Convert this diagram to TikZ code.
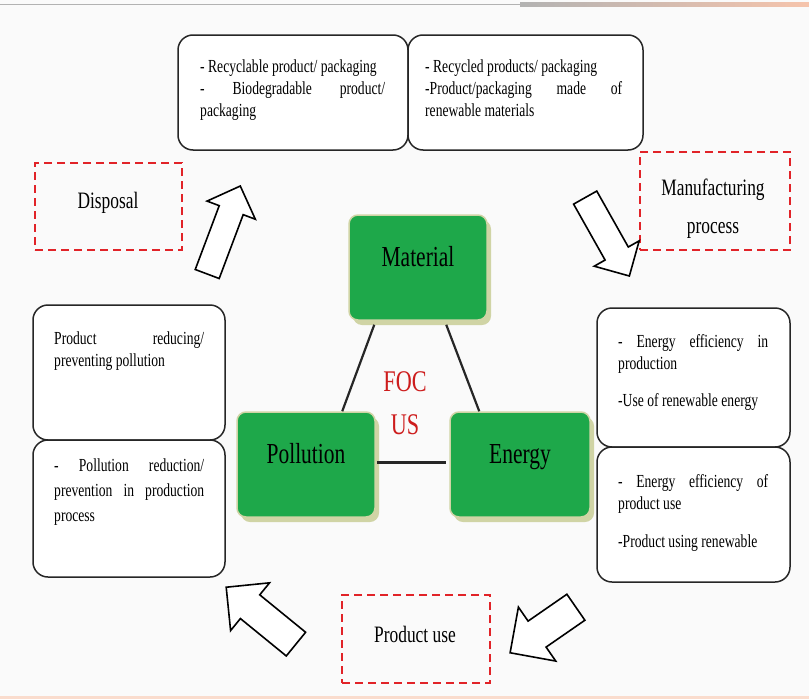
\documentclass[tikz,border=0pt]{standalone}
\usepackage{fontspec}
\setmainfont{Liberation Serif}[FakeStretch=0.74]
\usetikzlibrary{shapes.arrows,shadows}
\hyphenpenalty=10000
\exhyphenpenalty=10000
\definecolor{boxgreen}{RGB}{30,168,74}
\definecolor{shadowbeige}{RGB}{208,212,165}
\definecolor{dashred}{RGB}{225,35,40}
\definecolor{focred}{RGB}{205,28,28}
\definecolor{peach}{RGB}{246,196,172}
\definecolor{bgwhite}{RGB}{250,250,250}
\tikzset{
  infobox/.style={draw=black!85, line width=1.5pt, rounded corners=15pt, fill=white, inner sep=0pt},
  boxtext/.style={inner sep=0pt, anchor=north west, align=justify,
    font=\fontsize{18.4}{22}\selectfont},
  stagebox/.style={draw=dashred, line width=2.4pt, dash pattern=on 8pt off 5pt, inner sep=0pt},
  stagetext/.style={inner sep=0pt, align=center, font=\fontsize{23.5}{40}\selectfont},
  greenbox/.style={fill=boxgreen, draw=shadowbeige, line width=1.5pt, rounded corners=9pt, inner sep=0pt,
    font=\fontsize{29}{30}\selectfont, text height=20pt, text depth=22pt,
    drop shadow={shadow xshift=4pt, shadow yshift=-5pt, fill=shadowbeige, opacity=1}},
  link/.style={draw=black!85, line width=2.2pt},
  blockarrow/.style={single arrow, draw=black, line width=1.6pt, fill=white, inner xsep=0pt, single arrow tip angle=90}
}
\begin{document}
\begin{tikzpicture}[x=1pt,y=-1pt]
\useasboundingbox (0,0) rectangle (809,699);
\fill[bgwhite] (0,0) rectangle (809,699);
% top and bottom trims
\fill[black!30] (0,3.5) rectangle (520,5);
\shade[left color=black!30, right color=peach] (520,2.5) rectangle (809,6);
\fill[peach!60] (0,696) rectangle (809,699);

% top boxes
\node[infobox, minimum width=230pt, minimum height=115pt] (tl) at (293,92.5) {};
\node[infobox, minimum width=235pt, minimum height=115pt] (tr) at (525.5,92.5) {};
\node[boxtext, text width=185pt] (tltext) at (200,60) {- Recyclable product/ packaging\\- Biodegradable product/ packaging};
\node[boxtext, text width=197pt] (trtext) at (425,60) {- Recycled products/ packaging\\-Product/packaging made of renewable materials};

% left boxes
\node[infobox, minimum width=192pt, minimum height=135pt] (lu) at (129,372.5) {};
\node[infobox, minimum width=192pt, minimum height=137pt] (ll) at (129,508.5) {};
\node[boxtext, text width=150pt] (lutext) at (54,332) {Product reducing/ preventing pollution};
\node[boxtext, text width=150pt, font=\fontsize{18.4}{25}\selectfont] (lltext) at (54,459) {- Pollution reduction/ prevention in production process};

% right boxes
\node[infobox, minimum width=193pt, minimum height=139pt] (ru) at (693.5,377.5) {};
\node[infobox, minimum width=193pt, minimum height=135pt] (rl) at (693.5,514.5) {};
\node[boxtext, text width=150pt] (rutext) at (618,334) {- Energy efficiency in production\\[15pt]-Use of renewable energy};
\node[boxtext, text width=150pt] (rltext) at (618,474) {- Energy efficiency of product use\\[16pt]-Product using renewable};

% stage boxes
\node[stagebox, minimum width=147pt, minimum height=87pt] (disp) at (108.5,206.5) {};
\node[stagebox, minimum width=150pt, minimum height=98pt] (manu) at (715,201) {};
\node[stagebox, minimum width=148pt, minimum height=88pt] (use) at (416,639) {};
\node[stagetext] (disptext) at (108,203) {Disposal};
\node[stagetext] (manutext1) at (713,190) {Manufacturing};
\node[stagetext] (manutext2) at (713,230) {process};
\node[stagetext] (usetext) at (415,634) {Product use};

% block arrows
\node[blockarrow, minimum height=94pt, minimum width=50pt, inner ysep=12pt, single arrow head extend=13pt, rotate=69.4] (a1) at (221.5,236) {};
\node[blockarrow, minimum height=90pt, minimum width=50pt, inner ysep=12.5pt, single arrow head extend=12.5pt, rotate=-60.6] (a2) at (604,231) {};
\node[blockarrow, minimum height=80pt, minimum width=64pt, inner ysep=15pt, single arrow head extend=17pt, rotate=214.7] (a3) at (549.5,625.5) {};
\node[blockarrow, minimum height=90pt, minimum width=60pt, inner ysep=14.5pt, single arrow head extend=15.5pt, rotate=140.8] (a4) at (267,620.5) {};

% central focus
\node[greenbox, minimum width=138pt, minimum height=105pt] (material) at (418,267.5) {Material};
\node[greenbox, minimum width=138pt, minimum height=105pt] (pollution) at (306,464.5) {Pollution};
\node[greenbox, minimum width=140pt, minimum height=105pt] (energy) at (520,464.5) {Energy};
\node[text=focred, align=center, font=\fontsize{30}{43}\selectfont, inner sep=0pt] (focus) at (405,403) {FOC\\US};

\draw[link] ([xshift=26pt,yshift=-4pt]material.south west) -- ([xshift=106pt]pollution.north west);
\draw[link] ([xshift=98pt,yshift=-4pt]material.south west) -- ([xshift=30pt]energy.north west);
\draw[link] ([xshift=1pt,yshift=2pt]pollution.east) -- ([xshift=-3pt,yshift=2pt]energy.west);
\end{tikzpicture}
\end{document}
